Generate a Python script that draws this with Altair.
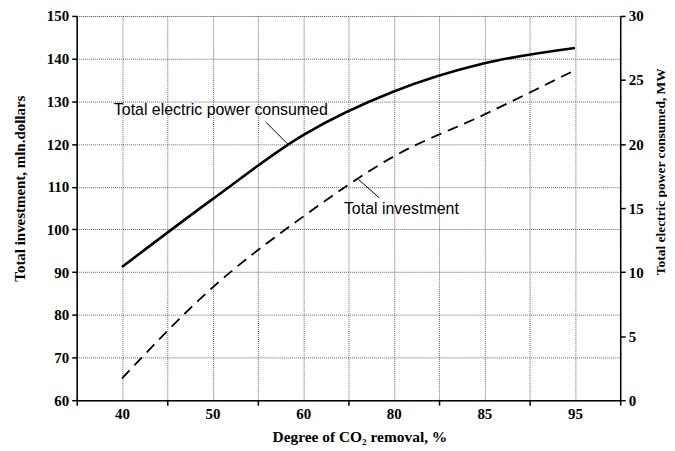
import altair as alt
import pandas as pd

# ---- data ----
categories = ["40", "50", "60", "80", "85", "95"]          # Degree of CO2 removal, %
power_mw = [10.4, 15.7, 20.7, 24.1, 26.3, 27.5]             # Total electric power consumed, MW (right axis)
investment = [65.1, 86.4, 103.0, 117.1, 126.9, 137.3]       # Total investment, mln.dollars (left axis)

# annotation texts (in data coordinates: category index, left-axis value)
ann_text = ["Total electric power consumed", "Total investment"]
ann_x = [-0.09, 2.45]
ann_y = [128.0, 104.7]
# leader lines
lead_x = [1.59, 2.61]
lead_y = [125.1, 111.7]
lead_x2 = [1.83, 2.84]
lead_y2 = [120.0, 107.4]

idx = list(range(len(categories)))
df = pd.DataFrame({"i": idx, "cat": categories, "power": power_mw, "inv": investment})
ann = pd.DataFrame({"text": ann_text, "x": ann_x, "y": ann_y})
lead = pd.DataFrame({"x": lead_x, "y": lead_y, "x2": lead_x2, "y2": lead_y2})

SERIF = "Liberation Serif"
SANS = "Liberation Sans"

label_js = "[" + ",".join("'%s'" % c for c in categories) + "]"
x_values = [v / 2 for v in range(-1, 2 * len(categories))]

GRID = dict(grid=True, gridDash=[1, 1], gridColor="#666", gridWidth=1)

x_scale = alt.Scale(domain=[-0.5, len(categories) - 0.5], nice=False, zero=False)
x_axis = alt.Axis(
    values=x_values,
    labelExpr="datum.value == floor(datum.value) ? %s[datum.value] : ''" % label_js,
    tickOpacity={"condition": {"test": "datum.value != floor(datum.value)", "value": 1}, "value": 0},
    tickSize=5, tickColor="black", tickWidth=1.5,
    domainColor="black", domainWidth=1.5,
    labelFont=SERIF, labelFontWeight="bold", labelFontSize=15, labelColor="black",
    labelPadding=1,
    title="Degree of CO₂ removal, %",
    titleFont=SERIF, titleFontWeight="bold", titleFontSize=15.5, titleColor="black",
    titleX=284, titleAnchor="middle", titlePadding=8,
    **GRID,
)

x_enc = alt.X("i:Q", scale=x_scale, axis=x_axis)

left_axis = alt.Axis(
    orient="left", values=list(range(60, 151, 10)),
    tickSize=5, tickColor="black", tickWidth=1.5,
    domainColor="black", domainWidth=1.5,
    labelFont=SERIF, labelFontWeight="bold", labelFontSize=15, labelColor="black",
    labelPadding=3,
    title="Total investment, mln.dollars",
    titleFont=SERIF, titleFontWeight="bold", titleFontSize=15, titleColor="black",
    titleX=-49, titleY=173,
    **GRID,
)
left_scale = alt.Scale(domain=[60, 150], nice=False, zero=False)

right_axis = alt.Axis(
    orient="right", values=list(range(0, 31, 5)),
    tickSize=5, tickColor="black", tickWidth=1.5,
    domainColor="black", domainWidth=1.5,
    grid=False,
    labelFont=SERIF, labelFontWeight="bold", labelFontSize=15, labelColor="black",
    labelPadding=3,
    title="Total electric power consumed, MW",
    titleFont=SERIF, titleFontWeight="bold", titleFontSize=13.5, titleColor="black",
    titleAngle=270, titleX=47, titleY=156,
)
right_scale = alt.Scale(domain=[0, 30], nice=False, zero=False)

base = alt.Chart(df)

inv_line = base.mark_line(color="black", strokeWidth=1.8, strokeDash=[11, 7], interpolate="monotone").encode(
    x=x_enc, y=alt.Y("inv:Q", scale=left_scale, axis=left_axis)
)
texts = alt.Chart(ann).mark_text(font=SANS, fontSize=16, align="left", baseline="middle", color="black").encode(
    x=alt.X("x:Q", scale=x_scale), y=alt.Y("y:Q", scale=left_scale), text="text:N"
)
rules = alt.Chart(lead).mark_rule(color="black", strokeWidth=1).encode(
    x=alt.X("x:Q", scale=x_scale), y=alt.Y("y:Q", scale=left_scale), x2="x2:Q", y2="y2:Q"
)
left_layer = alt.layer(inv_line, rules, texts)

power_line = base.mark_line(color="black", strokeWidth=2.6, interpolate="monotone").encode(
    x=x_enc, y=alt.Y("power:Q", scale=right_scale, axis=right_axis)
)

chart = alt.layer(left_layer, power_line).resolve_scale(y="independent").properties(
    width=546, height=386,
    padding={"left": 5, "top": 0, "right": 0, "bottom": 0},
).configure_view(stroke=None).configure(background="white")

chart.save("out.html", embed_options={"renderer": "svg", "actions": False})
